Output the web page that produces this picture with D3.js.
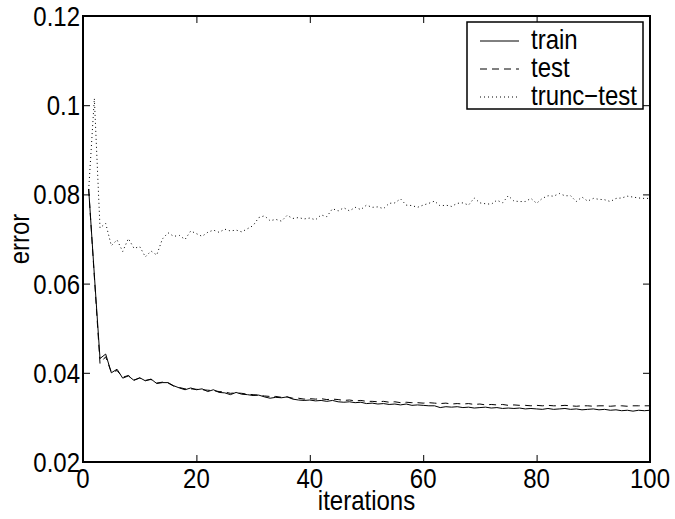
<!DOCTYPE html>
<html>
<head>
<meta charset="utf-8">
<script src="https://cdn.jsdelivr.net/npm/d3@7"></script>
<style>
  body { margin: 0; background: #fff; }
  text { font-family: "Liberation Sans", Arial, sans-serif; }
</style>
</head>
<body>
<svg width="675" height="519"></svg>
<script>
// data, iterations 1..100
var iterations = d3.range(1, 101);

var train = [
  0.0812, 0.0620, 0.0432, 0.0442, 0.0400, 0.0408, 0.0388, 0.0393, 0.0383, 0.0389,
  0.0382, 0.0386, 0.0376, 0.0378, 0.0378, 0.0371, 0.0366, 0.0362, 0.0366, 0.0362,
  0.0364, 0.0358, 0.0362, 0.0356, 0.0355, 0.0351, 0.0356, 0.0352, 0.0351, 0.0349,
  0.0350, 0.0346, 0.0343, 0.0345, 0.0344, 0.0346, 0.0341, 0.0339, 0.0338, 0.0339,
  0.0337, 0.0338, 0.0336, 0.0338, 0.0335, 0.0334, 0.0335, 0.0333, 0.0334, 0.0331,
  0.0332, 0.0330, 0.0331, 0.0329, 0.0330, 0.0328, 0.0330, 0.0327, 0.0328, 0.0327,
  0.0326, 0.0326, 0.0322, 0.0324, 0.0323, 0.0324, 0.0322, 0.0323, 0.0321, 0.0322,
  0.0323, 0.0321, 0.0322, 0.0320, 0.0321, 0.0320, 0.0321, 0.0319, 0.0320, 0.0319,
  0.0318, 0.0320, 0.0318, 0.0319, 0.0320, 0.0318, 0.0319, 0.0317, 0.0318, 0.0319,
  0.0317, 0.0318, 0.0316, 0.0317, 0.0315, 0.0316, 0.0314, 0.0316, 0.0315, 0.0316
];

var test = [
  0.0812, 0.0615, 0.0421, 0.0436, 0.0401, 0.0405, 0.0390, 0.0394, 0.0384, 0.0388,
  0.0383, 0.0385, 0.0377, 0.0379, 0.0377, 0.0370, 0.0367, 0.0364, 0.0364, 0.0363,
  0.0362, 0.0361, 0.0360, 0.0358, 0.0357, 0.0354, 0.0355, 0.0354, 0.0352, 0.0351,
  0.0350, 0.0348, 0.0347, 0.0347, 0.0345, 0.0346, 0.0343, 0.0343, 0.0341, 0.0342,
  0.0341, 0.0342, 0.0340, 0.0341, 0.0340, 0.0338, 0.0339, 0.0337, 0.0338, 0.0336,
  0.0336, 0.0335, 0.0336, 0.0334, 0.0335, 0.0333, 0.0334, 0.0333, 0.0333, 0.0332,
  0.0333, 0.0332, 0.0331, 0.0332, 0.0330, 0.0331, 0.0330, 0.0331, 0.0329, 0.0330,
  0.0328, 0.0329, 0.0328, 0.0329, 0.0327, 0.0328, 0.0327, 0.0327, 0.0326, 0.0327,
  0.0326, 0.0327, 0.0326, 0.0326, 0.0327, 0.0326, 0.0325, 0.0326, 0.0326, 0.0325,
  0.0326, 0.0326, 0.0325, 0.0326, 0.0326, 0.0325, 0.0326, 0.0326, 0.0326, 0.0326
];

var truncTest = [
  0.0810, 0.1015, 0.0725, 0.0735, 0.0685, 0.0698, 0.0672, 0.0701, 0.0679, 0.0683,
  0.0660, 0.0673, 0.0664, 0.0700, 0.0714, 0.0706, 0.0708, 0.0699, 0.0718, 0.0712,
  0.0706, 0.0715, 0.0720, 0.0715, 0.0722, 0.0718, 0.0720, 0.0716, 0.0723, 0.0730,
  0.0748, 0.0752, 0.0741, 0.0744, 0.0740, 0.0753, 0.0746, 0.0748, 0.0745, 0.0747,
  0.0743, 0.0754, 0.0750, 0.0768, 0.0763, 0.0770, 0.0763, 0.0771, 0.0766, 0.0776,
  0.0771, 0.0772, 0.0768, 0.0780, 0.0781, 0.0790, 0.0776, 0.0775, 0.0771, 0.0776,
  0.0780, 0.0785, 0.0774, 0.0776, 0.0773, 0.0780, 0.0781, 0.0776, 0.0792, 0.0781,
  0.0779, 0.0778, 0.0787, 0.0781, 0.0797, 0.0785, 0.0784, 0.0784, 0.0791, 0.0780,
  0.0791, 0.0797, 0.0796, 0.0802, 0.0797, 0.0797, 0.0784, 0.0794, 0.0785, 0.0791,
  0.0789, 0.0788, 0.0784, 0.0791, 0.0792, 0.0796, 0.0794, 0.0792, 0.0791, 0.0791
];

var xTicks = [0, 20, 40, 60, 80, 100];
var yTicks = [0.02, 0.04, 0.06, 0.08, 0.1, 0.12];
var seriesNames = ["train", "test", "trunc\u2212test"];
var seriesDash = [null, "7,5", "1,3"];

// text slightly stretched vertically, like the original print
function label(sel, px, py, rot) {
  return sel.append("text")
    .attr("transform", "translate(" + px + "," + py + ")" + (rot ? "rotate(" + rot + ")" : "") + "scale(1,1.14)")
    .attr("font-size", 24);
}

function main() {
  var svg = d3.select("svg");
  var left = 83, right = 650, top = 16, bottom = 462;

  var x = d3.scaleLinear().domain([0, 100]).range([left, right]);
  var y = d3.scaleLinear().domain([0.02, 0.12]).range([bottom, top]);

  // tick marks pointing inwards on all four sides
  var tickLen = 7;
  var g = svg.append("g");
  g.append("g").attr("transform", "translate(0," + bottom + ")")
    .call(d3.axisTop(x).tickValues(xTicks).tickSize(tickLen).tickFormat(""));
  g.append("g").attr("transform", "translate(0," + top + ")")
    .call(d3.axisBottom(x).tickValues(xTicks).tickSize(tickLen).tickFormat(""));
  g.append("g").attr("transform", "translate(" + left + ",0)")
    .call(d3.axisRight(y).tickValues(yTicks).tickSize(tickLen).tickFormat(""));
  g.append("g").attr("transform", "translate(" + right + ",0)")
    .call(d3.axisLeft(y).tickValues(yTicks).tickSize(tickLen).tickFormat(""));
  g.selectAll(".domain").remove();
  g.selectAll(".tick line").attr("stroke", "#000").attr("stroke-width", 1);

  // tick labels
  var xl = svg.append("g");
  xTicks.forEach(function(d) {
    label(xl, x(d), bottom + 26).attr("text-anchor", "middle").text(d);
  });
  var yl = svg.append("g");
  yTicks.forEach(function(d) {
    label(yl, left - 3, y(d) + 10).attr("text-anchor", "end").text(+d.toFixed(2));
  });

  label(svg, (left + right) / 2, bottom + 48).attr("text-anchor", "middle").text("iterations");
  label(svg, 29, (top + bottom) / 2, -90).attr("text-anchor", "middle").text("error");

  // lines
  var line = d3.line()
    .x(function(d){ return x(d[0]); })
    .y(function(d){ return y(d[1]); });

  var series = [train, test, truncTest];
  series.forEach(function(vals, k) {
    svg.append("path")
      .datum(iterations.map(function(it, i){ return [it, vals[i]]; }))
      .attr("fill", "none")
      .attr("stroke", "#000")
      .attr("stroke-width", 1)
      .attr("stroke-dasharray", seriesDash[k])
      .attr("d", line);
  });

  // frame
  svg.append("rect").attr("x", left).attr("y", top)
    .attr("width", right - left).attr("height", bottom - top)
    .attr("fill", "none").attr("stroke", "#000").attr("stroke-width", 2);

  // legend
  var lg = svg.append("g");
  lg.append("rect").attr("x", 467).attr("y", 22).attr("width", 176).attr("height", 87)
    .attr("fill", "#fff").attr("stroke", "#000").attr("stroke-width", 1.5);
  seriesNames.forEach(function(name, k) {
    var ly = 41 + k * 28;
    lg.append("line").attr("x1", 480).attr("x2", 519).attr("y1", ly).attr("y2", ly)
      .attr("stroke", "#000").attr("stroke-width", 1)
      .attr("stroke-dasharray", seriesDash[k]);
    label(lg, 531, ly + 8).text(name);
  });
}
main();
</script>
</body>
</html>
